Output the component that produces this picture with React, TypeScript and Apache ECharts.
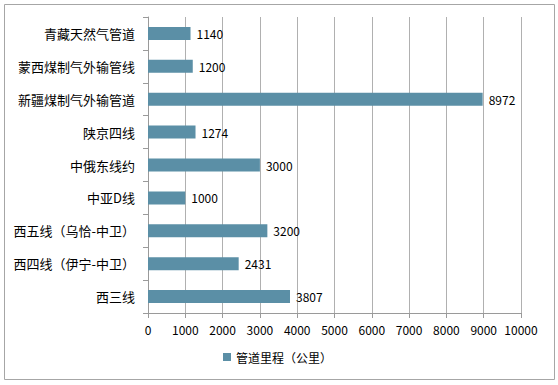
import React, { useEffect, useRef } from "react";
import * as echarts from "echarts";

const categories = [
  "青藏天然气管道",
  "蒙西煤制气外输管线",
  "新疆煤制气外输管道",
  "陕京四线",
  "中俄东线约",
  "中亚D线",
  "西五线（乌恰-中卫）",
  "西四线（伊宁-中卫）",
  "西三线",
];
const values = [1140, 1200, 8972, 1274, 3000, 1000, 3200, 2431, 3807];
const seriesName = "管道里程（公里）";
const xMin = 0;
const xMax = 10000;
const xStep = 1000;

const FONT = "'Noto Sans CJK SC', 'Noto Sans', sans-serif";

export default function App() {
  const ref = useRef<HTMLDivElement>(null);
  useEffect(() => {
    if (!ref.current) return;
    const chart = echarts.init(ref.current, undefined, { renderer: "svg" });
    chart.setOption({
      animation: false,
      backgroundColor: "#ffffff",
      textStyle: { fontFamily: FONT },
      graphic: [
        {
          type: "rect",
          shape: { x: 4.5, y: 4.5, width: 550, height: 375 },
          style: { fill: "none", stroke: "#a6a6a6", lineWidth: 1 },
          silent: true,
        },
      ],
      grid: { left: 148, right: 37, top: 17, bottom: 72, containLabel: false },
      legend: {
        bottom: 17,
        left: 218,
        itemWidth: 8,
        itemHeight: 8,
        itemGap: 4,
        icon: "rect",
        textStyle: { fontFamily: FONT, fontSize: 12, color: "#000" },
        data: [seriesName],
      },
      xAxis: {
        type: "value",
        min: xMin,
        max: xMax,
        interval: xStep,
        axisLine: { show: true, lineStyle: { color: "#9a9a9a" } },
        axisTick: { show: true, length: 5, lineStyle: { color: "#9a9a9a" } },
        axisLabel: {
          fontFamily: FONT,
          fontSize: 12,
          color: "#000",
          margin: 10,
          formatter: (v: number) => String(v),
        },
        splitLine: { show: true, lineStyle: { color: "#b0b0b0", width: 1 } },
      },
      yAxis: {
        type: "category",
        inverse: true,
        data: categories,
        axisLine: { show: true, lineStyle: { color: "#9a9a9a" } },
        axisTick: { show: true, length: 5, lineStyle: { color: "#9a9a9a" } },
        axisLabel: { fontFamily: FONT, fontSize: 13, color: "#000", margin: 13 },
        splitLine: { show: false },
      },
      series: [
        {
          name: seriesName,
          type: "bar",
          data: values,
          barWidth: 13,
          itemStyle: { color: "#5b8fa6" },
          label: {
            show: true,
            position: "right",
            distance: 6,
            fontFamily: FONT,
            fontSize: 12,
            color: "#000",
          },
        },
      ],
    });
    return () => chart.dispose();
  }, []);
  return (
    <div
      ref={ref}
      style={{ position: "fixed", left: 0, top: 0, width: 558, height: 385 }}
    />
  );
}
